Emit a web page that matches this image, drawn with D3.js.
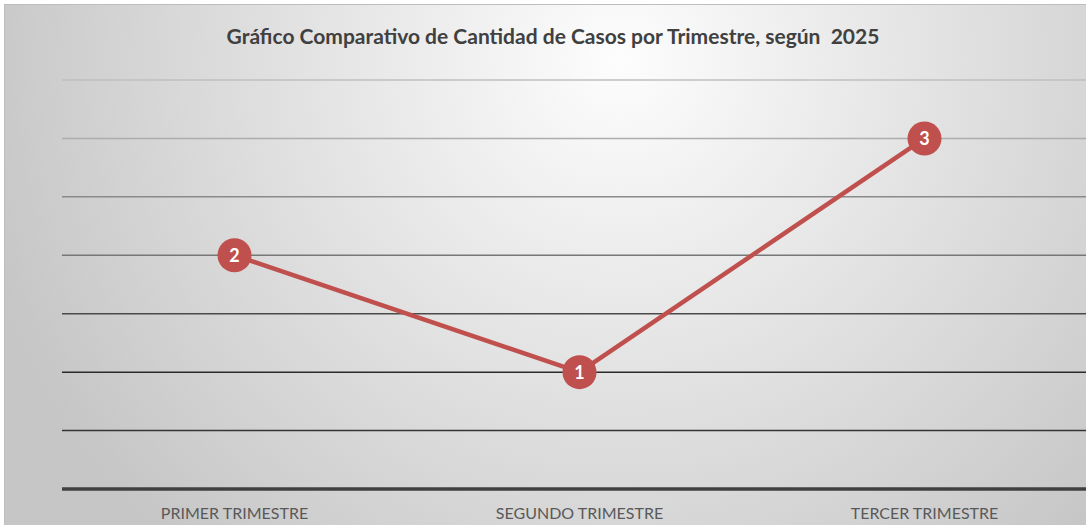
<!DOCTYPE html>
<html><head><meta charset="utf-8">
<script src="https://cdn.jsdelivr.net/npm/d3@7"></script>
<style>html,body{margin:0;padding:0;background:#fff;overflow:hidden}</style>
</head><body>
<svg id="c" width="1086" height="525"></svg>
<script>
const categories = ["PRIMER TRIMESTRE", "SEGUNDO TRIMESTRE", "TERCER TRIMESTRE"];
const values = [2, 1, 3];
const gridTicks = [0, 0.5, 1, 1.5, 2, 2.5, 3, 3.5];
const title = "Gráfico Comparativo de Cantidad de Casos por Trimestre, según  2025";

const svg = d3.select("#c");
const W = 1086, H = 525;
const defs = svg.append("defs");
const rg = defs.append("radialGradient").attr("id","bg")
  .attr("gradientUnits","userSpaceOnUse").attr("cx",620).attr("cy",60).attr("r",660)
  .attr("fx",620).attr("fy",60);
rg.append("stop").attr("offset","0").attr("stop-color","#fdfdfd");
rg.append("stop").attr("offset","1").attr("stop-color","#c6c6c6");

svg.append("rect").attr("x",4.5).attr("y",4.5).attr("width",W).attr("height",H)
  .attr("fill","url(#bg)").attr("stroke","#bdbdbd").attr("stroke-width",1);

const x = d3.scaleBand().domain(categories).range([62, 1097]);
const y = d3.scaleLinear().domain([0, 3.5]).range([489, 80]);
const gridColor = d3.scaleLinear().domain([0, 1, 1.5, 2, 2.5, 3, 3.5])
  .range(["#404040","#2a2a2a","#4a4a4a","#777777","#8a8a8a","#adadad","#bfbfbf"]);

const g = svg.append("g");
g.selectAll("line.grid").data(gridTicks.filter(d=>d>0)).join("line")
  .attr("class","grid")
  .attr("x1",62).attr("x2",W).attr("y1",d=>y(d)).attr("y2",d=>y(d))
  .attr("stroke",d=>gridColor(d)).attr("stroke-width",1.5);

// base axis
g.append("line").attr("x1",62).attr("x2",W).attr("y1",y(0)).attr("y2",y(0))
  .attr("stroke","#404040").attr("stroke-width",3.5);

// x axis labels
const xAxis = d3.axisBottom(x).tickSize(0).tickPadding(0);
const ax = svg.append("g").attr("transform",`translate(0,${y(0)+19})`).call(xAxis);
ax.select(".domain").remove();
ax.selectAll("text").attr("fill","#595959").attr("font-family","Lato, 'Open Sans', sans-serif")
  .attr("font-size","16px").attr("dy","0.71em");

// title
svg.append("text").attr("x",553).attr("y",44).attr("text-anchor","middle")
  .style("white-space","pre")
  .attr("font-family","Lato, 'Open Sans', sans-serif").attr("font-weight","bold")
  .attr("font-size","21px").attr("fill","#404040").text(title);

// line
const data = categories.map((c,i)=>({c, v: values[i]}));
const line = d3.line().x(d=>x(d.c)+x.bandwidth()/2).y(d=>y(d.v));
svg.append("path").datum(data).attr("d",line).attr("fill","none")
  .attr("stroke","#c0504d").attr("stroke-width",4.5).attr("stroke-linejoin","round");

const pts = svg.selectAll("g.pt").data(data).join("g").attr("class","pt")
  .attr("transform",d=>`translate(${x(d.c)+x.bandwidth()/2},${y(d.v)})`);
pts.append("circle").attr("r",17).attr("fill","#c0504d");
pts.append("text").attr("text-anchor","middle").attr("dy","0.36em")
  .attr("font-family","Lato, 'Open Sans', sans-serif").attr("font-weight","bold")
  .attr("font-size","18px").attr("fill","#ffffff").text(d=>d.v);
</script>
</body></html>
